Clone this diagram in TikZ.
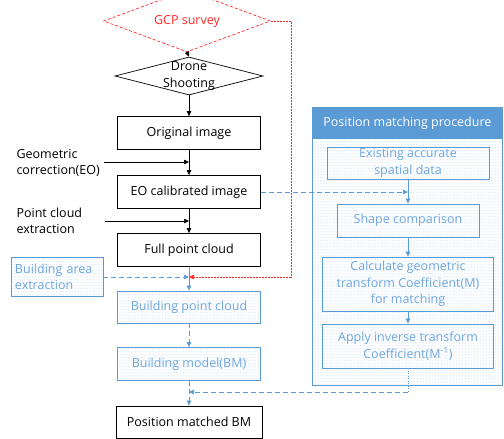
\documentclass[tikz,border=0pt]{standalone}
\usepackage{fontspec}
\setmainfont{Open Sans}
\usepackage{xcolor}
\usetikzlibrary{shapes.geometric,arrows.meta,patterns}
\definecolor{pblue}{RGB}{91,155,213}
\definecolor{ptext}{RGB}{110,165,222}
\definecolor{gcpred}{RGB}{255,40,40}

\begin{document}
\begin{tikzpicture}[x=1pt,y=-1pt,
		font=\fontsize{12.5}{16.5}\selectfont,
		box/.style={draw, line width=0.8pt, minimum width=143pt, minimum height=33pt, inner sep=1pt},
		bbox/.style={draw=pblue, line width=0.8pt, text=ptext, align=center, inner sep=1pt},
		pat/.style={pattern=dots, pattern color=pblue!60},
		decision/.style={diamond, draw, line width=0.7pt, inner xsep=0pt, inner ysep=-8pt, align=center},
		arr/.style={-{Triangle[length=5pt,width=4.5pt]}, line width=0.7pt},
		barr/.style={arr, draw=pblue},
		bdash/.style={dash pattern=on 5pt off 3pt}]
	\useasboundingbox (0,0) rectangle (504,439);
	
	% main flow
	\node[decision, draw=gcpred, dash pattern=on 3pt off 2pt, text=gcpred, minimum width=167pt, minimum height=38pt] (gcp) at (187,21) {GCP survey};
	\node[decision, aspect=4, minimum width=148pt, minimum height=38pt] (drone) at (189,76) {Drone\\Shooting};
	\node[box] (orig) at (189,133) {Original image};
	\node[box] (eo) at (189,192) {EO calibrated image};
	\node[box] (full) at (189,250) {Full point cloud};
	\node[bbox, pat, minimum width=143pt, minimum height=32pt] (bpc) at (189,307) {Building point cloud};
	\node[bbox, pat, minimum width=143pt, minimum height=33pt] (bm) at (189,364) {Building model(BM)};
	\node[box, minimum width=146pt, minimum height=32pt] (pm) at (189,422) {Position matched BM};
	
	% inputs on the left
	\node[anchor=west, align=left] (geo) at (13,163) {Geometric\\correction(EO)};
	\node[anchor=west, align=left] (pce) at (13,221) {Point cloud\\extraction};
	\node[bbox, pat, align=left, text width=84pt, inner sep=4pt, minimum height=39pt] (bae) at (57,277) {Building area\\extraction};
	\coordinate (geoin) at (104,162);
	\coordinate (pcein) at (105,221);
	
	\draw[arr] (gcp.south) -- (drone.north);
	\draw[arr] (drone.south) -- (orig.north);
	\draw[arr] (orig) -- (eo);
	\draw[arr] (eo) -- (full);
	\draw[arr] (geoin) -- (geoin -| orig.south);
	\draw[arr] (pcein) -- (pcein -| eo.south);
	\draw[barr] (full) -- (bpc);
	\draw[barr, bdash] (bae.east) -- (bae.east -| full.south);
	\draw[barr, bdash] (bpc) -- (bm);
	\draw[barr, bdash] (bm) -- (pm);
	
	% GCP feeds the building point cloud
	\coordinate (gcpc) at (291,277);
	\draw[arr, draw=gcpred, dash pattern=on 2pt off 1pt] (gcp.east) -- (gcp.east -| gcpc) -- (gcpc) -- (gcpc -| full.south);
	
	% position matching procedure
	\node[draw=pblue, line width=0.8pt, pat, minimum width=190pt, minimum height=278pt, anchor=north west, inner sep=0pt] (panel) at (312,107) {};
	\node[fill=pblue, draw=pblue, line width=0.8pt, text=white, minimum width=190pt, minimum height=31pt, anchor=north west, inner sep=0pt] (head) at (312,107) {Position matching procedure};
	\node[bbox, minimum width=162pt, minimum height=32pt] (exist) at (408,163) {Existing accurate\\spatial data};
	\node[bbox, minimum width=142pt, minimum height=33pt] (shape) at (408,220.5) {Shape comparison};
	\node[bbox, minimum width=171pt, minimum height=54pt] (calc) at (408,284) {Calculate geometric\\transform Coefficient(M)\\for matching};
	\node[bbox, minimum width=171pt, minimum height=44pt] (apply) at (408,346) {Apply inverse transform\\Coefficient(M\textsuperscript{-1})};
	
	\draw[barr] (exist) -- (shape);
	\draw[barr, bdash] (eo.east) -- (eo.east -| shape.north);
	\draw[barr] (shape) -- (calc);
	\draw[barr] (calc) -- (apply);
	\coordinate (back) at (408,392);
	\draw[pblue, line width=0.8pt, dash pattern=on 1pt off 1.5pt] (apply.south) -- (back);
	\draw[barr, bdash] (back) -- (back -| pm.north);
\end{tikzpicture}
\end{document}
